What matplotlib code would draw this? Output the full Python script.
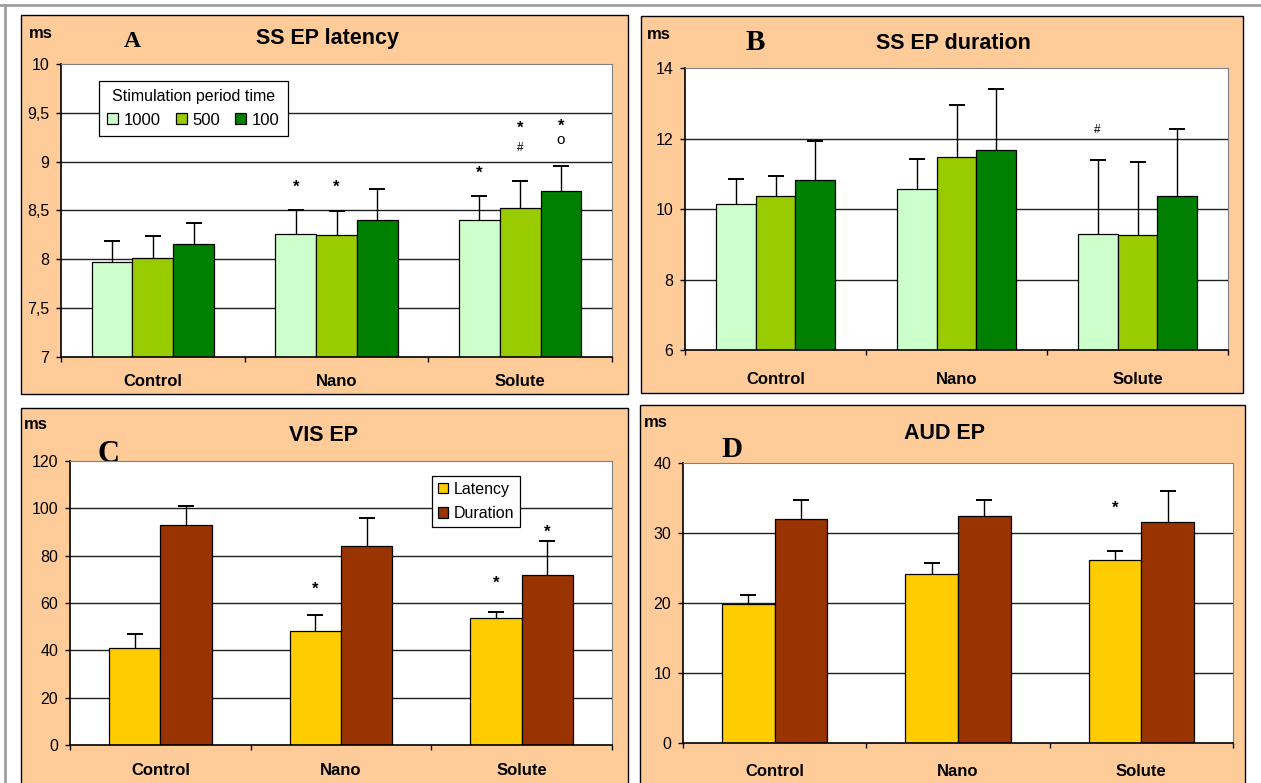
import matplotlib
matplotlib.use("Agg")
import matplotlib.pyplot as plt
from matplotlib.patches import Rectangle
from matplotlib.lines import Line2D
from matplotlib.ticker import FixedLocator, FixedFormatter
import numpy as np

# ---------------- data ----------------
groups = ["Control", "Nano", "Solute"]

# Panel A: SS EP latency (ms) by stimulation period time
periods = ["1000", "500", "100"]
lat_means = [[7.97, 8.26, 8.40], [8.01, 8.25, 8.53], [8.16, 8.40, 8.70]]
lat_err = [[0.22, 0.25, 0.25], [0.23, 0.24, 0.27], [0.21, 0.32, 0.26]]

# Panel B: SS EP duration (ms)
dur_means = [[10.15, 10.57, 9.28], [10.38, 11.48, 9.25], [10.82, 11.68, 10.37]]
dur_err = [[0.70, 0.86, 2.12], [0.57, 1.47, 2.08], [1.11, 1.72, 1.91]]

# Panel C: VIS EP (ms)
ep_series = ["Latency", "Duration"]
vis_means = [[41.0, 48.0, 53.5], [93.0, 84.0, 72.0]]
vis_err = [[6.0, 7.0, 2.5], [8.0, 12.0, 14.0]]

# Panel D: AUD EP (ms)
aud_means = [[19.8, 24.2, 26.2], [32.0, 32.4, 31.6]]
aud_err = [[1.3, 1.5, 1.2], [2.7, 2.3, 4.4]]

# significance marks: (group index, series index, text, y value)
marks_a = [(1, 0, "*", 8.74), (1, 1, "*", 8.74), (2, 0, "*", 8.88),
           (2, 1, "*", 9.34), (2, 1, "#", 9.14), (2, 2, "*", 9.36), (2, 2, "o", 9.22)]
marks_b = [(2, 0, "#", 12.24)]
marks_c = [(1, 0, "*", 66.0), (2, 0, "*", 68.5), (2, 1, "*", 90.0)]
marks_d = [(2, 0, "*", 33.6)]

green_cols = ["#CCFFCC", "#99CC00", "#008000"]
ep_cols = ["#FFCC00", "#993300"]
panel_bg = "#FFCC99"

W, H = 1261, 783
fig = plt.figure(figsize=(W / 100, H / 100), dpi=100)
fig.patch.set_facecolor("white")

SANS = ["Liberation Sans", "DejaVu Sans"]
SERIF = ["Liberation Serif", "DejaVu Serif"]


def fx(x):
    return x / W


def fy(y):
    return 1 - y / H


def panel_box(x0, y0, x1, y1):
    r = Rectangle((fx(x0), fy(y1)), fx(x1 - x0), y1 / H - y0 / H,
                  transform=fig.transFigure, facecolor=panel_bg,
                  edgecolor="black", linewidth=1.0, zorder=-10)
    fig.patches.append(r)


def make_axes(x0, y0, x1, y1):
    ax = fig.add_axes([fx(x0), fy(y1), fx(x1 - x0), (y1 - y0) / H])
    ax.set_facecolor("white")
    return ax


def style_axes(ax, ylim, yticks, ylabels, cat_pad=12):
    ax.set_xlim(-0.5, 2.5)
    ax.set_ylim(*ylim)
    ax.yaxis.set_major_locator(FixedLocator(yticks))
    ax.yaxis.set_major_formatter(FixedFormatter(ylabels))
    ax.xaxis.set_major_locator(FixedLocator([-0.5, 0.5, 1.5, 2.5]))
    ax.xaxis.set_major_formatter(FixedFormatter(["", "", "", ""]))
    ax.xaxis.set_minor_locator(FixedLocator([0, 1, 2]))
    ax.xaxis.set_minor_formatter(FixedFormatter(groups))
    ax.tick_params(axis="x", which="major", direction="out", length=3.5, width=1)
    ax.tick_params(axis="x", which="minor", length=0, pad=cat_pad)
    ax.tick_params(axis="y", direction="out", length=3.5, width=1, pad=5,
                   labelsize=11.5)
    for lab in ax.get_yticklabels():
        lab.set_fontfamily(SANS)
    for lab in ax.xaxis.get_minorticklabels():
        lab.set_fontfamily(SANS)
        lab.set_fontweight("bold")
        lab.set_fontsize(12)
    for t in yticks[1:-1]:
        ax.axhline(t, color="#202020", linewidth=1.0, zorder=0.5)
    ax.spines["left"].set_color("black")
    ax.spines["bottom"].set_color("black")
    ax.spines["left"].set_linewidth(1.2)
    ax.spines["bottom"].set_linewidth(1.2)
    ax.spines["top"].set_color("#808080")
    ax.spines["right"].set_color("#808080")


def draw_bars(ax, means, errs, colors, width, labels):
    n = len(means)
    x = np.arange(len(groups))
    offsets = (np.arange(n) - (n - 1) / 2) * width
    for i in range(n):
        ax.bar(x + offsets[i], means[i], width, color=colors[i],
               edgecolor="black", linewidth=0.9, label=labels[i], zorder=2)
        _, caps, _ = ax.errorbar(x + offsets[i], means[i],
                                 yerr=[np.zeros(len(groups)), errs[i]],
                                 fmt="none", ecolor="black", elinewidth=1.0,
                                 capsize=5.5, capthick=1.4, zorder=3)
        # upper-only error bars: hide the cap sitting on the bar top
        caps[0].set_visible(False)
    return offsets


def draw_marks(ax, offsets, marks):
    for g, s, txt, y in marks:
        if txt == "*":
            ax.text(g + offsets[s], y, "*", ha="center", va="center",
                    fontsize=12, fontweight="bold", family=SANS, zorder=4)
        elif txt == "#":
            ax.text(g + offsets[s], y, "#", ha="center", va="center",
                    fontsize=8.5, family=SANS, zorder=4)
        else:
            ax.text(g + offsets[s], y, "o", ha="center", va="center",
                    fontsize=11, family=SANS, zorder=4)


def panel_texts(ms_xy, letter, letter_xy, letter_size, title, title_xy):
    fig.text(fx(ms_xy[0]), fy(ms_xy[1]), "ms", ha="left", va="baseline",
             fontsize=12, fontweight="bold", family=SANS)
    fig.text(fx(letter_xy[0]), fy(letter_xy[1]), letter, ha="center",
             va="baseline", fontsize=letter_size, fontweight="bold",
             family=SERIF, zorder=-5)
    fig.text(fx(title_xy[0]), fy(title_xy[1]), title, ha="center",
             va="baseline", fontsize=15.5, fontweight="bold", family=SANS)


# outer frame lines
fig.add_artist(Line2D([0, 1], [fy(5), fy(5)], transform=fig.transFigure,
                      color="#A0A0A0", linewidth=2, zorder=-20))
fig.add_artist(Line2D([fx(5), fx(5)], [fy(5), 0], transform=fig.transFigure,
                      color="#A0A0A0", linewidth=2, zorder=-20))

# ---------- panel A ----------
panel_box(21, 15, 628, 394)
axA = make_axes(61, 64, 612, 357)
offA = draw_bars(axA, lat_means, lat_err, green_cols, 0.222, periods)
style_axes(axA, (7, 10), [7, 7.5, 8, 8.5, 9, 9.5, 10],
           ["7", "7,5", "8", "8,5", "9", "9,5", "10"], cat_pad=12)
draw_marks(axA, offA, marks_a)
legA = axA.legend(title="Stimulation period time", ncol=3, loc="upper left",
                  bbox_to_anchor=(fx(99), fy(81)),
                  bbox_transform=fig.transFigure, borderaxespad=0,
                  frameon=True, fancybox=False, edgecolor="black",
                  handlelength=0.65, handleheight=0.65, handletextpad=0.35,
                  columnspacing=0.9, borderpad=0.5,
                  prop={"family": SANS, "size": 12}, framealpha=1)
legA.get_title().set_fontfamily(SANS)
legA.get_title().set_fontsize(11.5)
legA.get_frame().set_linewidth(0.9)
legA.set_zorder(5)
panel_texts((29, 38), "A", (132, 47), 17, "SS EP latency", (328, 44))

# ---------- panel B ----------
panel_box(641, 16, 1243, 393)
axB = make_axes(685, 68, 1228, 350)
offB = draw_bars(axB, dur_means, dur_err, green_cols, 0.22, periods)
style_axes(axB, (6, 14), [6, 8, 10, 12, 14], ["6", "8", "10", "12", "14"],
           cat_pad=15.5)
draw_marks(axB, offB, marks_b)
panel_texts((647, 39), "B", (755.5, 50), 21, "SS EP duration", (953, 49))

# ---------- panel C ----------
panel_box(21, 408, 628, 795)
axC = make_axes(70, 461, 612, 745)
offC = draw_bars(axC, vis_means, vis_err, ep_cols, 0.284, ep_series)
style_axes(axC, (0, 120), [0, 20, 40, 60, 80, 100, 120],
           ["0", "20", "40", "60", "80", "100", "120"], cat_pad=13)
draw_marks(axC, offC, marks_c)
legC = axC.legend(loc="upper left", bbox_to_anchor=(fx(432), fy(476)),
                  bbox_transform=fig.transFigure, borderaxespad=0,
                  frameon=True, fancybox=False, edgecolor="black",
                  handlelength=0.65, handleheight=0.65, handletextpad=0.35,
                  labelspacing=0.6, borderpad=0.35,
                  prop={"family": SANS, "size": 11.5}, framealpha=1)
legC.get_frame().set_linewidth(0.9)
legC.set_zorder(5)
panel_texts((24, 429), "C", (108.5, 462), 22, "VIS EP", (324, 441))

# ---------- panel D ----------
panel_box(640, 405, 1245, 795)
axD = make_axes(683, 463, 1233, 743)
offD = draw_bars(axD, aud_means, aud_err, ep_cols, 0.288, ep_series)
style_axes(axD, (0, 40), [0, 10, 20, 30, 40], ["0", "10", "20", "30", "40"],
           cat_pad=15)
draw_marks(axD, offD, marks_d)
panel_texts((644, 427), "D", (732, 457), 21, "AUD EP", (944, 439))

fig.savefig("out.png", dpi=100, facecolor="white")
